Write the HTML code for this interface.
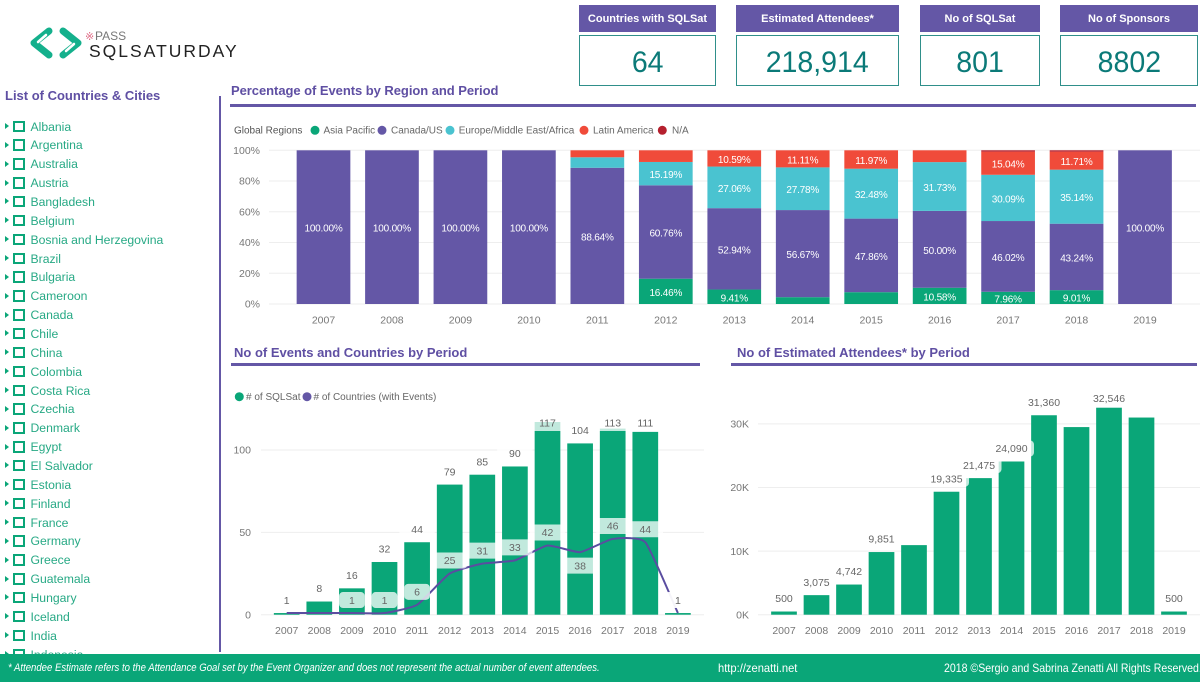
<!DOCTYPE html>
<html lang="en">
<head>
<meta charset="utf-8">
<title>SQLSaturday dashboard</title>
<style>
html,body{margin:0;padding:0;background:#fff;}
body{position:relative;width:1200px;height:682px;overflow:hidden;font-family:"Liberation Sans",sans-serif;}
.abs{position:absolute;}
.title{position:absolute;color:#5f4fa3;font-weight:bold;font-size:13px;line-height:16px;white-space:nowrap;}
.rule{position:absolute;background:#6457a6;height:3px;}
.kh{position:absolute;top:5px;height:27px;background:#6457a6;color:#fff;font-weight:bold;font-size:11px;line-height:29px;text-align:center;white-space:nowrap;}
.kv{position:absolute;top:35px;height:49px;border:1px solid #2f8f8a;box-sizing:content-box;color:#0b7a78;font-size:30px;line-height:54px;text-align:center;background:#fff;}
.kv span{display:inline-block;transform:scaleX(.95);}
#list{position:absolute;left:0;top:117px;width:218px;height:537px;overflow:hidden;}
.row{position:relative;height:18.87px;}
.tri{position:absolute;left:5px;top:6px;width:0;height:0;border-left:4px solid #0aa678;border-top:3.5px solid transparent;border-bottom:3.5px solid transparent;}
.cb{position:absolute;left:13px;top:3.5px;width:7.5px;height:7.5px;border:2px solid #0aa678;}
.lb{position:absolute;left:30.5px;top:1.5px;font-size:12.2px;line-height:16px;color:#27a985;white-space:nowrap;}
#footer{position:absolute;left:0;top:654px;width:1200px;height:28px;background:#0aa678;color:#fff;}
#footer div{position:absolute;top:7px;line-height:15px;white-space:nowrap;transform-origin:0 50%;}
svg text{font-family:"Liberation Sans",sans-serif;}
</style>
</head>
<body>

<svg class="abs" style="left:0;top:0" width="260" height="70" viewBox="0 0 260 70">
  <polyline points="49,31 34,43 49,55" fill="none" stroke="#14b08c" stroke-width="7" stroke-linecap="round" stroke-linejoin="round"/>
  <polyline points="63,31 78,43 63,55" fill="none" stroke="#14b08c" stroke-width="7" stroke-linecap="round" stroke-linejoin="round"/>
  <polyline points="66,51 74,44" fill="none" stroke="#fff" stroke-width="2.5" stroke-linecap="round"/>
  <polyline points="46,35 38,42" fill="none" stroke="#fff" stroke-width="2.5" stroke-linecap="round"/>
  <text x="85" y="40" font-size="11" fill="#e0708a">※</text>
  <text x="95" y="40" font-size="12" fill="#777">PASS</text>
  <text x="89" y="57" font-size="17.5" fill="#222" letter-spacing="2">SQLSATURDAY</text>
</svg>

<div class="kh" style="left:579px;width:137px">Countries with SQLSat</div>
<div class="kv" style="left:579px;width:135px"><span>64</span></div>
<div class="kh" style="left:736px;width:163px">Estimated Attendees*</div>
<div class="kv" style="left:736px;width:161px"><span>218,914</span></div>
<div class="kh" style="left:920px;width:120px">No of SQLSat</div>
<div class="kv" style="left:920px;width:118px"><span>801</span></div>
<div class="kh" style="left:1060px;width:138px">No of Sponsors</div>
<div class="kv" style="left:1060px;width:136px"><span>8802</span></div>

<div class="title" style="left:5px;top:88px">List of Countries &amp; Cities</div>
<div class="abs" style="left:219px;top:96px;width:2px;height:556px;background:#6457a6"></div>

<div id="list">
<div class="row"><i class="tri"></i><i class="cb"></i><span class="lb">Albania</span></div>
<div class="row"><i class="tri"></i><i class="cb"></i><span class="lb">Argentina</span></div>
<div class="row"><i class="tri"></i><i class="cb"></i><span class="lb">Australia</span></div>
<div class="row"><i class="tri"></i><i class="cb"></i><span class="lb">Austria</span></div>
<div class="row"><i class="tri"></i><i class="cb"></i><span class="lb">Bangladesh</span></div>
<div class="row"><i class="tri"></i><i class="cb"></i><span class="lb">Belgium</span></div>
<div class="row"><i class="tri"></i><i class="cb"></i><span class="lb">Bosnia and Herzegovina</span></div>
<div class="row"><i class="tri"></i><i class="cb"></i><span class="lb">Brazil</span></div>
<div class="row"><i class="tri"></i><i class="cb"></i><span class="lb">Bulgaria</span></div>
<div class="row"><i class="tri"></i><i class="cb"></i><span class="lb">Cameroon</span></div>
<div class="row"><i class="tri"></i><i class="cb"></i><span class="lb">Canada</span></div>
<div class="row"><i class="tri"></i><i class="cb"></i><span class="lb">Chile</span></div>
<div class="row"><i class="tri"></i><i class="cb"></i><span class="lb">China</span></div>
<div class="row"><i class="tri"></i><i class="cb"></i><span class="lb">Colombia</span></div>
<div class="row"><i class="tri"></i><i class="cb"></i><span class="lb">Costa Rica</span></div>
<div class="row"><i class="tri"></i><i class="cb"></i><span class="lb">Czechia</span></div>
<div class="row"><i class="tri"></i><i class="cb"></i><span class="lb">Denmark</span></div>
<div class="row"><i class="tri"></i><i class="cb"></i><span class="lb">Egypt</span></div>
<div class="row"><i class="tri"></i><i class="cb"></i><span class="lb">El Salvador</span></div>
<div class="row"><i class="tri"></i><i class="cb"></i><span class="lb">Estonia</span></div>
<div class="row"><i class="tri"></i><i class="cb"></i><span class="lb">Finland</span></div>
<div class="row"><i class="tri"></i><i class="cb"></i><span class="lb">France</span></div>
<div class="row"><i class="tri"></i><i class="cb"></i><span class="lb">Germany</span></div>
<div class="row"><i class="tri"></i><i class="cb"></i><span class="lb">Greece</span></div>
<div class="row"><i class="tri"></i><i class="cb"></i><span class="lb">Guatemala</span></div>
<div class="row"><i class="tri"></i><i class="cb"></i><span class="lb">Hungary</span></div>
<div class="row"><i class="tri"></i><i class="cb"></i><span class="lb">Iceland</span></div>
<div class="row"><i class="tri"></i><i class="cb"></i><span class="lb">India</span></div>
<div class="row"><i class="tri"></i><i class="cb"></i><span class="lb">Indonesia</span></div>
</div>

<div class="title" style="left:231px;top:83px;letter-spacing:-.05px">Percentage of Events by Region and Period</div>
<div class="rule" style="left:230px;top:104px;width:966px"></div>
<div class="title" style="left:234px;top:345px">No of Events and Countries by Period</div>
<div class="rule" style="left:231px;top:363px;width:469px"></div>
<div class="title" style="left:737px;top:345px">No of Estimated Attendees* by Period</div>
<div class="rule" style="left:731px;top:363px;width:466px"></div>

<svg id="charts" class="abs" style="left:0;top:0" width="1200" height="654" viewBox="0 0 1200 654">
  <g font-size="10" fill="#666">
    <text x="234" y="133.5" fill="#555">Global Regions</text>
    <circle cx="315" cy="130.3" r="4.5" fill="#0aa678"/>
    <text x="323.5" y="133.5">Asia Pacific</text>
    <circle cx="382" cy="130.3" r="4.5" fill="#6457a6"/>
    <text x="391" y="133.5">Canada/US</text>
    <circle cx="450" cy="130.3" r="4.5" fill="#4ac3d0"/>
    <text x="458.7" y="133.5">Europe/Middle East/Africa</text>
    <circle cx="584" cy="130.3" r="4.5" fill="#f04b3a"/>
    <text x="593" y="133.5">Latin America</text>
    <circle cx="662.3" cy="130.3" r="4.5" fill="#b5202e"/>
    <text x="672" y="133.5">N/A</text>
  </g>
  <g font-size="10" fill="#666">
    <circle cx="239.3" cy="396.7" r="4.5" fill="#0aa678"/>
    <text x="246" y="400"># of SQLSat</text>
    <circle cx="307" cy="396.7" r="4.5" fill="#6457a6"/>
    <text x="313.5" y="400"># of Countries (with Events)</text>
  </g>
  <g id="region-chart"></g>
  <g id="events-chart"></g>
  <g id="attendees-chart"></g>
</svg>

<div id="footer">
  <div style="left:8px;font-size:10.8px;font-style:italic;transform:scaleX(.886)">* Attendee Estimate refers to the Attendance Goal set by the Event Organizer and does not represent the actual number of event attendees.</div>
  <div style="left:718px;font-size:12px;transform:scaleX(.93)">http://zenatti.net</div>
  <div style="left:944px;font-size:12px;transform:scaleX(.88)">2018 ©Sergio and Sabrina Zenatti All Rights Reserved.</div>
</div>

<script>
var years = ['2007','2008','2009','2010','2011','2012','2013','2014','2015','2016','2017','2018','2019'];

var asiaPacific  = [0,0,0,0,0,16.46,9.41,4.44,7.69,10.58,7.96,9.01,0];
var canadaUS     = [100,100,100,100,88.64,60.76,52.94,56.67,47.86,50,46.02,43.24,100];
var europeMEA    = [0,0,0,0,6.82,15.19,27.06,27.78,32.48,31.73,30.09,35.14,0];
var latinAmerica = [0,0,0,0,4.54,7.59,10.59,11.11,11.97,7.69,15.04,11.71,0];
var notAvailable = [0,0,0,0,0,0,0,0,0,0,0.89,0.90,0];
var percentTicks = [0,20,40,60,80,100];
var minPercentLabel = 7.9;

var sqlsatEvents = [1,8,16,32,44,79,85,90,117,104,113,111,1];
var countryCounts = [1,1,1,1,6,25,31,33,42,38,46,44,1];
var countryLabelYears = ['2009','2010','2011','2012','2013','2014','2015','2016','2017','2018','2019'];
var countryLabelsBelow = ['2016'];
var eventTicks = [0,50,100];

var attendees = [500,3075,4742,9851,10940,19335,21475,24090,31360,29500,32546,31000,500];
var attendeeHiddenLabels = ['2011','2016','2018'];
var attendeeTicks = [0,10000,20000,30000];

var NS = 'http://www.w3.org/2000/svg';
var GREEN = '#0aa678', PURPLE = '#6457a6', TEAL = '#4ac3d0', RED = '#f04b3a', DARK = '#b5202e';
var AXIS_TEXT = '#777';

function mk(tag, attrs, parent) {
  var el = document.createElementNS(NS, tag);
  for (var k in attrs) { el.setAttribute(k, attrs[k]); }
  parent.appendChild(el);
  return el;
}

/* axis functions */
function xRegion(i) { return 323.5 + i * 68.46; }
function yRegion(v) { return 304 - v * 1.537; }
function xEvents(i) { return 286.7 + i * 32.6; }
function yEvents(v) { return 614.7 - v * 1.647; }
function xAttend(i) { return 784 + i * 32.5; }
function yAttend(v) { return 614.7 - v * 0.00636; }

/* ---------- region chart ---------- */
(function () {
  var g = document.getElementById('region-chart');
  var barW = 53.7;
  percentTicks.forEach(function (t) {
    var line = mk('line', {x1: 269, x2: 1200, y1: yRegion(t), y2: yRegion(t), stroke: '#eeeeee', 'stroke-width': 1}, g);
    
    
    var lab = mk('text', {x: 260, y: yRegion(t) + 3.5, 'text-anchor': 'end', 'font-size': 10.5, fill: AXIS_TEXT}, g);
    lab.textContent = t + '%';
    
    
  });
  var stack = [
    {values: asiaPacific, color: GREEN, id: 'asia-pacific'},
    {values: canadaUS, color: PURPLE, id: 'canada-us'},
    {values: europeMEA, color: TEAL, id: 'europe'},
    {values: latinAmerica, color: RED, id: 'latin-america'},
    {values: notAvailable, color: DARK, id: 'na'}
  ];
  years.forEach(function (yr, i) {
    var base = 0;
    stack.forEach(function (s) {
      var v = s.values[i];
      if (v > 0) {
        var r = mk('rect', {x: xRegion(i) - barW / 2, y: yRegion(base + v), width: barW, height: yRegion(base) - yRegion(base + v), fill: s.color}, g);
        
        
        if (v >= minPercentLabel) {
          var t = mk('text', {x: xRegion(i), y: yRegion(base + v / 2) + 4.5, 'text-anchor': 'middle', 'font-size': 10, fill: '#fff', 'letter-spacing': '-0.2'}, g);
          t.textContent = v.toFixed(2) + '%';
          
          
        }
      }
      base += v;
    });
    var xl = mk('text', {x: xRegion(i), y: 323.5, 'text-anchor': 'middle', 'font-size': 10.5, fill: AXIS_TEXT}, g);
    xl.textContent = yr;
    
    
  });
})();

/* a value label with a translucent white plate */
function plateWidth(n) {
  if (n === 1) { return 25.7; }
  if (n < 6) { return 33 + 1.2 * n; }
  return 45;
}
function plate(g, cx, cy, str, name) {
  var w = plateWidth(str.length);
  var r = mk('rect', {x: cx - w / 2, y: cy - 8, width: w, height: 16, rx: 4, ry: 4, fill: '#fff', 'fill-opacity': 0.75}, g);
  
  
  var t = mk('text', {x: cx, y: cy + 3.7, 'text-anchor': 'middle', 'font-size': 10.5, fill: '#666'}, g);
  t.textContent = str;
  
  
}

/* ---------- events chart ---------- */
(function () {
  var g = document.getElementById('events-chart');
  var barW = 25.7;
  eventTicks.forEach(function (t) {
    var line = mk('line', {x1: 261, x2: 704, y1: yEvents(t), y2: yEvents(t), stroke: '#eeeeee', 'stroke-width': 1}, g);
    
    
    var lab = mk('text', {x: 251, y: yEvents(t) + 3.7, 'text-anchor': 'end', 'font-size': 10.5, fill: AXIS_TEXT}, g);
    lab.textContent = t;
    
    
  });
  years.forEach(function (yr, i) {
    var r = mk('rect', {x: xEvents(i) - barW / 2, y: yEvents(sqlsatEvents[i]), width: barW, height: yEvents(0) - yEvents(sqlsatEvents[i]), fill: GREEN}, g);
    
    
    var xl = mk('text', {x: xEvents(i), y: 634, 'text-anchor': 'middle', 'font-size': 10.5, fill: AXIS_TEXT}, g);
    xl.textContent = yr;
    
    
  });
  var pts = countryCounts.map(function (v, i) { return [xEvents(i), yEvents(v)]; });
  var d = 'M' + pts[0][0] + ' ' + pts[0][1];
  var k = 0.08;
  for (var i = 0; i < pts.length - 1; i++) {
    var p0 = pts[Math.max(0, i - 1)], p1 = pts[i], p2 = pts[i + 1], p3 = pts[Math.min(pts.length - 1, i + 2)];
    d += ' C' + (p1[0] + (p2[0] - p0[0]) * k) + ' ' + (p1[1] + (p2[1] - p0[1]) * k) + ' ' +
         (p2[0] - (p3[0] - p1[0]) * k) + ' ' + (p2[1] - (p3[1] - p1[1]) * k) + ' ' + p2[0] + ' ' + p2[1];
  }
  var path = mk('path', {d: d, fill: 'none', stroke: '#5a4da0', 'stroke-width': 2, 'stroke-linejoin': 'round'}, g);
  
  
  years.forEach(function (yr, i) {
    var cy = Math.max(423, yEvents(sqlsatEvents[i]) - 13);
    plate(g, xEvents(i), cy, String(sqlsatEvents[i]), 'sqlsat-label-' + yr);
  });
  years.forEach(function (yr, i) {
    if (countryLabelYears.indexOf(yr) < 0) { return; }
    var below = countryLabelsBelow.indexOf(yr) >= 0;
    plate(g, xEvents(i), yEvents(countryCounts[i]) + (below ? 13.5 : -13), String(countryCounts[i]), 'country-label-' + yr);
  });
})();

/* ---------- attendees chart ---------- */
(function () {
  var g = document.getElementById('attendees-chart');
  var barW = 25.7;
  attendeeTicks.forEach(function (t) {
    var line = mk('line', {x1: 758, x2: 1200, y1: yAttend(t), y2: yAttend(t), stroke: '#eeeeee', 'stroke-width': 1}, g);
    
    
    var lab = mk('text', {x: 749, y: yAttend(t) + 3.7, 'text-anchor': 'end', 'font-size': 10.5, fill: AXIS_TEXT}, g);
    lab.textContent = (t / 1000) + 'K';
    
    
  });
  years.forEach(function (yr, i) {
    var r = mk('rect', {x: xAttend(i) - barW / 2, y: yAttend(attendees[i]), width: barW, height: yAttend(0) - yAttend(attendees[i]), fill: GREEN}, g);
    
    
    var xl = mk('text', {x: xAttend(i), y: 634, 'text-anchor': 'middle', 'font-size': 10.5, fill: AXIS_TEXT}, g);
    xl.textContent = yr;
    
    
  });
  years.forEach(function (yr, i) {
    if (attendeeHiddenLabels.indexOf(yr) >= 0) { return; }
    var cy = Math.max(398.3, yAttend(attendees[i]) - 13);
    plate(g, xAttend(i), cy, attendees[i].toLocaleString('en-US'), 'attendees-label-' + yr);
  });
})();
</script>
</body>
</html>
